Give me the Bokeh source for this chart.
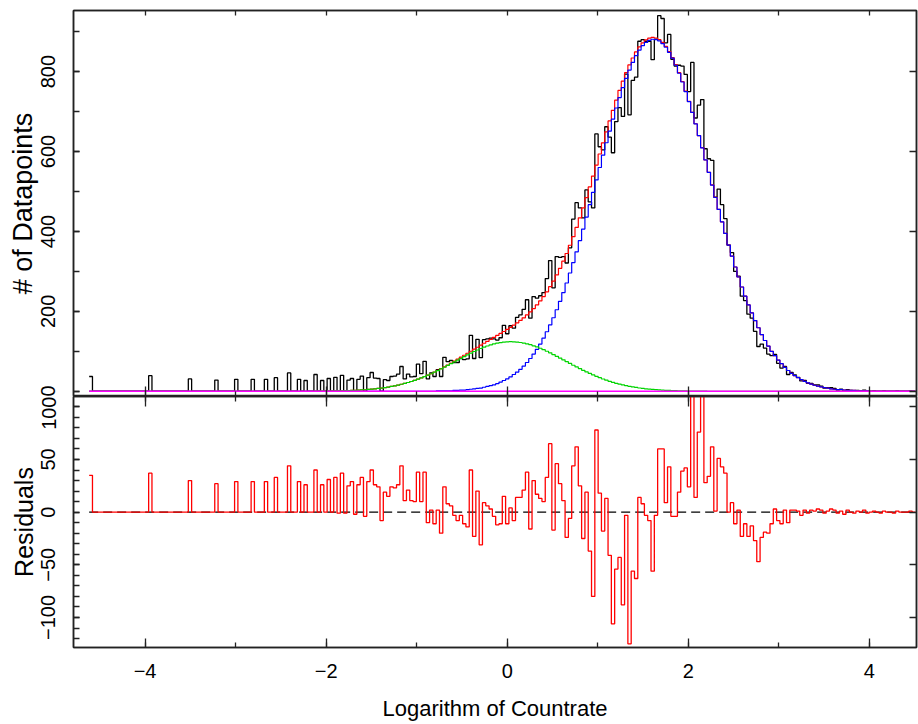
import numpy as np
from bokeh.plotting import figure
from bokeh.layouts import column
from bokeh.models import Range1d, SingleIntervalTicker, LinearAxis
from bokeh.embed import file_html
from bokeh.resources import INLINE

# ---------------- data ----------------
bin_start = -4.617
bin_width = 0.0365

counts = [
    37, 0, 0, 0, 0, 0, 0, 0, 0, 0,
    0, 0, 0, 0, 0, 0, 0, 0, 39, 0,
    0, 0, 0, 0, 0, 0, 0, 0, 0, 0,
    31, 0, 0, 0, 0, 0, 0, 0, 28, 0,
    0, 0, 0, 0, 30, 0, 0, 0, 0, 30,
    0, 0, 0, 30, 0, 0, 34, 0, 0, 0,
    46, 0, 0, 30, 0, 27, 0, 0, 42, 0,
    27, 0, 32, 0, 35, 0, 40, 0, 28, 32,
    0, 30, 38, 0, 34, 47, 33, 32, 0, 29,
    27, 37, 38, 43, 62, 31, 43, 36, 37, 68,
    44, 75, 31, 46, 37, 54, 37, 85, 74, 77,
    72, 72, 82, 79, 81, 140, 82, 130, 84, 129,
    131, 133, 131, 128, 134, 165, 144, 164, 158, 185,
    191, 205, 229, 183, 237, 233, 239, 247, 282, 327,
    259, 337, 335, 337, 321, 359, 431, 472, 459, 434,
    504, 474, 459, 644, 612, 604, 662, 636, 597, 675,
    710, 688, 794, 692, 778, 786, 876, 880, 876, 876,
    830, 881, 940, 933, 872, 893, 831, 814, 816, 814,
    793, 750, 823, 684, 716, 730, 607, 582, 578, 486,
    506, 467, 432, 366, 347, 300, 288, 238, 227, 193,
    183, 150, 112, 118, 108, 93, 89, 92, 70, 58,
    62, 42, 47, 41, 35, 26, 27, 20, 20, 16,
    16, 13, 8, 9, 9, 7, 3, 5, 1, 4,
    2, 1, 2, 1, 3, 0, 0, 1, 0, 0,
    1, 0, 0, 0, 1, 0, 0, 0, 1, 0,
]

fit_total = [0] * 68 + [
    0.2, 0.2, 0.3, 0.4, 0.5, 0.7,
    0.8, 1.0, 1.2, 1.4, 1.7, 2.0,
    2.3, 2.8, 3.3, 3.8, 4.5, 5.2, 6.0, 7.0, 8.0, 9.2,
    10.6, 12.0, 13.7, 15.5, 17.5, 19.6, 22.0, 24.5, 27.3, 30.2,
    33.5, 37.0, 40.5, 44.3, 48.2, 52.4, 56.7, 61.2, 65.8, 70.5,
    75.3, 80.2, 85.2, 90.2, 95.2, 100.2, 105.3, 110.2, 115.3, 120.2,
    125.1, 130.0, 134.9, 139.7, 144.7, 149.6, 154.7, 160.0, 165.5, 171.2,
    177.3, 183.8, 191.0, 198.6, 206.9, 216.1, 226.1, 236.9, 248.9, 261.9,
    275.9, 291.3, 307.7, 325.7, 344.8, 365.4, 386.9, 410.1, 434.0, 458.9,
    484.8, 511.4, 538.5, 566.2, 593.9, 621.8, 649.4, 676.5, 703.1, 728.6,
    753.0, 776.0, 797.3, 816.7, 834.1, 849.3, 861.9, 872.0, 879.3, 883.8,
    885.5, 884.2, 880.1, 873.0, 863.1, 850.4, 835.2, 817.5, 797.4, 775.3,
    751.2, 725.5, 698.1, 669.6, 640.0, 609.8, 578.8, 548.1, 516.5, 485.4,
    455, 424, 395, 366, 338, 311, 286, 261, 238, 216,
    196, 177, 159, 142, 127, 113, 100, 89, 78, 69,
    60, 52, 45, 39, 34, 29, 25, 21, 18, 15,
    13, 11, 9, 8, 6, 5, 4, 4, 3, 2,
    2, 2, 1, 1, 1, 1, 0, 0, 0, 0,
    0, 0, 0, 0, 0, 0, 0, 0, 0, 0,
]

comp_main = [0] * 105 + [
    1, 1, 1, 1, 1,
    2, 2, 3, 3, 4, 5, 6, 7, 8, 10,
    12, 14, 16, 19, 23, 27, 31, 36, 42, 48,
    55, 63, 72, 82, 93, 105, 118, 133, 149, 166,
    184, 204, 225, 247, 271, 296, 322, 349, 377, 406,
    436, 467, 498, 529, 560, 591, 622, 651, 681, 709,
    735, 760, 783, 804, 823, 840, 854, 865, 873, 878,
    881, 880, 877, 870, 861, 848, 834, 816, 796, 774,
    750, 725, 698, 669, 640, 609, 579, 548, 516, 485,
    455, 424, 395, 366, 338, 311, 286, 261, 238, 216,
    196, 177, 159, 142, 127, 113, 100, 89, 78, 69,
    60, 52, 45, 39, 34, 29, 25, 21, 18, 15,
    13, 11, 9, 8, 6, 5, 4, 4, 3, 2,
    2, 2, 1, 1, 1, 1, 0, 0, 0, 0,
    0, 0, 0, 0, 0, 0, 0, 0, 0, 0,
]

comp_low = [0] * 68 + [
    0.2, 0.2, 0.3, 0.4, 0.5, 0.7,
    0.8, 1.0, 1.2, 1.4, 1.7, 2.0,
    2.3, 2.8, 3.3, 3.8, 4.5, 5.2, 6.0, 7.0, 8.0, 9.2,
    10.6, 12.0, 13.7, 15.5, 17.5, 19.6, 22.0, 24.5, 27.3, 30.2,
    33.3, 36.7, 40.2, 43.9, 47.8, 51.8, 55.9, 60.2, 64.6, 69.0,
    73.5, 78.0, 82.5, 86.9, 91.2, 95.4, 99.5, 103.3, 107.0, 110.3,
    113.3, 116.0, 118.4, 120.3, 121.9, 123.0, 123.7, 124.0, 123.8, 123.2,
    122.1, 120.6, 118.8, 116.5, 113.8, 110.9, 107.6, 104.0, 100.2, 96.2,
    91.9, 87.5, 83.0, 78.6, 74.1, 69.6, 65.1, 61.0, 56.7, 52.5,
    48.5, 44.6, 40.8, 37.3, 33.9, 30.7, 27.8, 25.0, 22.4, 20.0,
    17.8, 15.8, 14.0, 12.3, 10.8, 9.5, 8.2, 7.2, 6.2, 5.3,
    4.6, 3.9, 3.4, 2.9, 2.4, 2.0, 1.7, 1.4, 1.2, 1.0,
    0.8, 0.7, 0.5, 0.4, 0.3, 0.2, 0.2, 0.1, 0.1, 0.1,
] + [0] * 60

residuals = [
    35, 0, 0, 0, 0, 0, 0, 0, 0, 0,
    0, 0, 0, 0, 0, 0, 0, 0, 37, 0,
    0, 0, 0, 0, 0, 0, 0, 0, 0, 0,
    30, 0, 0, 0, 0, 0, 0, 0, 27, 0,
    0, 0, 0, 0, 29, 0, 0, 0, 0, 29,
    0, 0, 0, 29, 0, 0, 33, 0, 0, 0,
    44, 0, 0, 29, 0, 26, 0, 0, 40, 0,
    26, 0, 31, 0, 33, -1, 37, -1, 25, 29,
    -2, 26, 33, -4, 29, 40, 26, 24, -8, 19,
    15, 24, 23, 26, 44, 11, 21, 11, 10, 38,
    10, 38, -10, 2, -11, 2, -20, 24, 8, 6,
    -3, -8, -3, -11, -14, 40, -23, 20, -31, 9,
    6, 3, -4, -12, -11, 15, -11, 4, -8, 14,
    14, 21, 38, -16, 30, 17, 13, 10, 33, 65,
    -17, 46, 27, 11, -24, -6, 44, 62, 25, -25,
    19, -37, -80, 78, 18, -18, 13, -41, -106, -54,
    -43, -88, -3, -125, -56, -63, 14, 8, -3, -8,
    -56, -3, 60, 60, 9, 43, -4, -4, 19, 39,
    42, 24, 125, 14, 76, 120, 28, 34, 62, 1,
    51, 43, 37, 0, 9, -11, 2, -23, -11, -23,
    -13, -27, -47, -24, -19, -20, -11, 3, -8, -11,
    2, -10, 2, 2, 1, -3, 2, -1, 2, 1,
    3, 2, -1, 1, 3, 2, -1, 1, -2, 2,
    0, -1, 1, 0, 2, -1, 0, 1, 0, -1,
    1, 0, 0, -1, 1, 0, 0, 0, 1, 0,
]

x_tick_labels = {-4: "\u22124", -2: "\u22122", 0: "0", 2: "2", 4: "4"}
res_tick_labels = {-100: "\u2212100", -50: "\u221250", 0: "0", 50: "50", 100: "100"}

# ---------------- layout ----------------
FONT = "Liberation Sans"
n = len(counts)
edges = bin_start + bin_width * np.arange(n + 1)


def stepped(v):
    return list(v) + [v[-1]]


x_range = Range1d(-4.790, 4.520)

W = 918
LEFT = 73
AX = "#222222"


def style_axis(ax, tick_in, minor_in, labels=True):
    ax.major_tick_in = tick_in
    ax.major_tick_out = 0
    ax.minor_tick_in = minor_in
    ax.minor_tick_out = 0
    ax.axis_line_color = AX
    ax.axis_line_width = 1.5
    ax.major_tick_line_color = AX
    ax.minor_tick_line_color = AX
    ax.major_tick_line_width = 1.3
    ax.minor_tick_line_width = 1.3
    ax.major_label_text_font = FONT
    ax.major_label_text_color = "black"
    ax.axis_label_text_font = FONT
    ax.axis_label_text_font_style = "normal"
    ax.axis_label_text_color = "black"
    if not labels:
        ax.major_label_text_font_size = "1px"
        ax.major_label_text_color = None
        ax.major_label_standoff = 0


# top panel
p1 = figure(width=W, height=396, x_range=x_range, y_range=Range1d(-13.1, 953.0),
            output_backend="svg", toolbar_location=None,
            min_border_left=LEFT, min_border_right=2, min_border_top=10, min_border_bottom=0)
p1.grid.visible = False
p1.outline_line_color = AX
p1.outline_line_width = 1.5

xb = p1.xaxis[0]
xb.ticker = SingleIntervalTicker(interval=2, num_minor_ticks=2)
style_axis(xb, 10, 5, labels=False)

yl = p1.yaxis[0]
yl.ticker = SingleIntervalTicker(interval=200, num_minor_ticks=2)
style_axis(yl, 6, 6)
yl.major_label_orientation = "vertical"
yl.major_label_text_font_size = "20px"
yl.major_label_standoff = 18
yl.axis_label = "# of Datapoints"
yl.axis_label_text_font_size = "27px"
yl.axis_label_standoff = 1

ya = LinearAxis(ticker=SingleIntervalTicker(interval=1, num_minor_ticks=0))
style_axis(ya, 5, 0, labels=False)
p1.add_layout(ya, "above")
yr = LinearAxis(ticker=SingleIntervalTicker(interval=200, num_minor_ticks=0))
style_axis(yr, 7, 0, labels=False)
p1.add_layout(yr, "right")

p1.step(edges, stepped(counts), mode="after", line_color="black", line_width=1.3)
p1.step(edges, stepped(fit_total), mode="after", line_color="#ff0000", line_width=1.2)
p1.step(edges, stepped(comp_main), mode="after", line_color="#0000ff", line_width=1.2)
p1.step(edges, stepped(comp_low), mode="after", line_color="#00d400", line_width=1.2)
p1.line([edges[0], edges[-1]], [0, 0], line_color="#ff00ff", line_width=1.6)

# bottom panel
p2 = figure(width=W, height=327, x_range=x_range, y_range=Range1d(-128.5, 109.8),
            output_backend="svg", toolbar_location=None,
            min_border_left=LEFT, min_border_right=2, min_border_top=0, min_border_bottom=71)
p2.grid.visible = False
p2.outline_line_color = AX
p2.outline_line_width = 1.5

xb2 = p2.xaxis[0]
xb2.ticker = SingleIntervalTicker(interval=2, num_minor_ticks=2)
style_axis(xb2, 9, 5)
xb2.major_label_overrides = x_tick_labels
xb2.major_label_text_font_size = "20px"
xb2.major_label_standoff = 16
xb2.axis_label = "Logarithm of Countrate"
xb2.axis_label_text_font_size = "22px"
xb2.axis_label_standoff = 15

yl2 = p2.yaxis[0]
yl2.ticker = SingleIntervalTicker(interval=50, num_minor_ticks=5)
style_axis(yl2, 6, 6)
yl2.major_label_overrides = res_tick_labels
yl2.major_label_orientation = "vertical"
yl2.major_label_text_font_size = "20px"
yl2.major_label_standoff = 18
yl2.axis_label = "Residuals"
yl2.axis_label_text_font_size = "25px"
yl2.axis_label_standoff = 1

xa2 = LinearAxis(ticker=SingleIntervalTicker(interval=2, num_minor_ticks=2))
style_axis(xa2, 10, 5, labels=False)
p2.add_layout(xa2, "above")
yr2 = LinearAxis(ticker=SingleIntervalTicker(interval=50, num_minor_ticks=0))
style_axis(yr2, 7, 0, labels=False)
p2.add_layout(yr2, "right")

p2.line([edges[0], edges[-1]], [0, 0], line_color="black", line_width=1.2, line_dash="9 5")
p2.step(edges, stepped(residuals), mode="after", line_color="#ff0000", line_width=1.3)

layout = column(p1, p2, spacing=0)
open("out.html", "w").write(file_html(layout, INLINE))
